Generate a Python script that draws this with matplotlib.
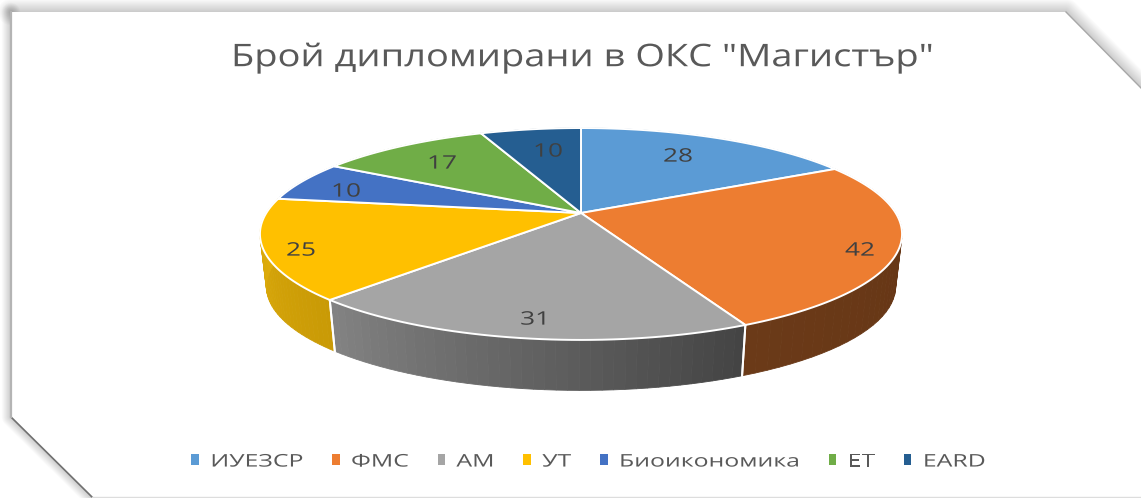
import numpy as np
import matplotlib
matplotlib.use("Agg")
import matplotlib.pyplot as plt
from matplotlib.colors import to_rgb
from matplotlib.path import Path
from matplotlib.patheffects import AbstractPathEffect
from matplotlib.transforms import Affine2D, Transform

plt.rcParams['font.family'] = ['Open Sans', 'DejaVu Sans']

# Data
categories = ['ИУЕЗСР', 'ФМС', 'АМ', 'УТ', 'Биоикономика', 'ЕТ', 'EARD']
values = [28, 42, 31, 25, 10, 17, 10]
colors = ['#5B9BD5', '#ED7D31', '#A5A5A5', '#FFC000', '#4472C4', '#70AD47', '#255E91']
wall_left = ['#3A6A96', '#6B3A18', '#848484', '#E4B10C', '#2E4E88', '#4E7A30', '#1A4266']
wall_right = ['#3A6A96', '#633414', '#444444', '#C99A06', '#2E4E88', '#4E7A30', '#1A4266']
label_x = [678, 860, 535, 301, 346, 442, 548]
label_y = [157, 251, 320, 251, 192, 164, 152]

W, H = 1141, 498
CX, CY = 581, 213   # where the slices meet, in pixels
A, B, P = 314.7, 101.8, 0.198   # tilt of the disc
DEPTH, SHRINK = 53, 0.98   # height of the wall


def project(u, v):
    w = 1 + P * np.asarray(v)
    return A * np.asarray(u) / w, B * np.asarray(v) / w


class TiltTransform(Transform):
    input_dims = 2
    output_dims = 2

    def transform_non_affine(self, values):
        values = np.asarray(values)
        x, y = project(values[:, 0], values[:, 1])
        return np.column_stack([x, y])

    def transform_path_non_affine(self, path):
        # sample the curves, a bezier does not survive the projection
        pts = []
        for curve, code in path.iter_bezier():
            pts.append(curve(np.linspace(0, 1, 24)))
        pts = np.vstack(pts)
        return Path(self.transform_non_affine(pts))


class SquashY(AbstractPathEffect):
    # the original picture was stretched sideways, so the text is wide and low
    def __init__(self, factor, y0):
        self.factor = factor
        self.y0 = y0

    def draw_path(self, renderer, gc, tpath, affine, rgbFace=None):
        squash = Affine2D().translate(0, -self.y0).scale(1, self.factor).translate(0, self.y0)
        renderer.draw_path(gc, tpath, affine + squash, rgbFace)


fig = plt.figure(figsize=(W / 100, H / 100), dpi=100)

# Card behind the chart
bg = fig.add_axes([0, 0, 1, 1])
bg.set_xlim(0, W)
bg.set_ylim(H, 0)
bg.axis('off')
card_x = [11, 1066, 1141, 1141, 92, 11, 11]
card_y = [12, 12, 88, 497, 497, 417, 12]
for lw in np.arange(1, 20, 1.5):
    bg.plot(card_x[:3], card_y[:3], color='k', lw=lw, alpha=0.014, solid_capstyle='round')
    bg.plot(card_x[3:], card_y[3:], color='k', lw=lw * 0.7, alpha=0.016, solid_capstyle='round')
bg.fill(card_x, card_y, color='white', lw=0, zorder=2)
bg.plot(card_x[1:3], card_y[1:3], color='#a8a8a8', lw=1, zorder=3)
bg.plot(card_x[4:6], card_y[4:6], color='#707070', lw=1.2, zorder=3)
bg.plot(card_x[5:], card_y[5:], color='#b4b4b4', lw=1.6, zorder=3)
bg.plot(card_x[3:5], card_y[3:5], color='#dddddd', lw=1, zorder=3)

# Pie, axis units are pixels measured from the meeting point
ax = fig.add_axes([0, 0, 1, 1])
ax.patch.set_alpha(0)
wedges, _ = ax.pie(values, colors=colors, startangle=90, counterclock=False,
                   wedgeprops=dict(edgecolor='white', linewidth=1.4, zorder=5))
ax.set_aspect('auto')
ax.set_xlim(-CX, W - CX)
ax.set_ylim(CY - H, CY)
ax.axis('off')
tilt = TiltTransform() + ax.transData
for w in wedges:
    w.set_transform(tilt)

# Walls under the disc and value labels
edges = np.cumsum([0] + values) / np.sum(values) * 2 * np.pi
for i in range(len(values)):
    th = np.linspace(edges[i], edges[i + 1], 41)
    xt, yt = project(np.sin(th), np.cos(th))
    xb, yb = xt * SHRINK, yt * SHRINK - DEPTH
    c0, c1 = np.array(to_rgb(wall_left[i])), np.array(to_rgb(wall_right[i]))
    for k in range(40):
        t = (th[k] - edges[i]) / (edges[i + 1] - edges[i])
        c = c1 * (1 - t) + c0 * t   # clockwise, so the slice starts on its right
        ax.fill([xt[k], xt[k + 1], xb[k + 1], xb[k]], [yt[k], yt[k + 1], yb[k + 1], yb[k]],
                color=c, lw=0.6, zorder=2)
    for end in (0, -1):
        if np.cos(th[end]) < -0.2:
            ax.plot([xt[end], xb[end]], [yt[end], yb[end]], color='white', lw=1.4, zorder=3)

    ax.text(label_x[i], label_y[i], str(values[i]), color='#404040', fontsize=18.9,
            ha='center', va='center', zorder=6, transform=bg.transData,
            path_effects=[SquashY(0.71, H - label_y[i])])

# y given here so the axes leaves the title where it is put
ax.set_title('Брой дипломирани в ОКС "Магистър"', color='#595959', fontsize=27.4, va='center',
             y=0, path_effects=[SquashY(0.82, H - 58)])
ax.title.set_transform(bg.transData)
ax.title.set_position((582, 58))

leg = ax.legend(wedges, categories, ncol=7, loc='center', bbox_to_anchor=(588.5 / W, 1 - 462 / H),
                frameon=False, fontsize=17.9, labelcolor='#595959', handlelength=0.3,
                handleheight=0.3, handletextpad=0.46, columnspacing=1.16, borderpad=0)
for t in leg.get_texts():
    t.set_path_effects([SquashY(0.7, H - 462)])
for h in leg.legend_handles:
    h.set_edgecolor('none')

plt.savefig('out.png', dpi=100)
